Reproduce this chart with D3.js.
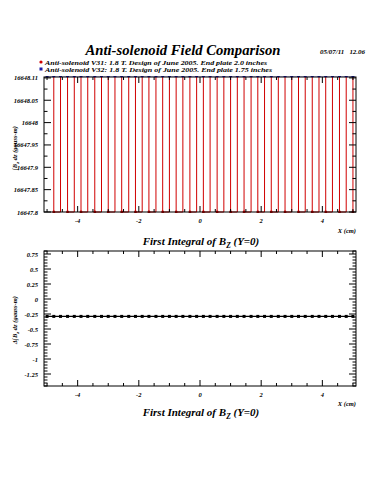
<!DOCTYPE html>
<html><head><meta charset="utf-8">
<script src="https://cdn.jsdelivr.net/npm/d3@7"></script>
<style>body{margin:0;background:#fff}svg{display:block}</style>
</head><body>
<script>
// ---- data ----
const xPositions = [-5, -4.78, -4.56, -4.33, -4.11, -3.89, -3.67, -3.44, -3.22, -3, -2.78, -2.56, -2.33, -2.11, -1.89, -1.67, -1.44, -1.22, -1, -0.78, -0.56, -0.33, -0.11, 0.11, 0.33, 0.56, 0.78, 1, 1.22, 1.44, 1.67, 1.89, 2.11, 2.33, 2.56, 2.78, 3, 3.22, 3.44, 3.67, 3.89, 4.11, 4.33, 4.56, 4.78, 5];
const v31Values = [16648.11, 16647.8, 16648.11, 16647.8, 16648.11, 16647.8, 16648.11, 16647.8, 16648.11, 16647.8, 16648.11, 16647.8, 16648.11, 16647.8, 16648.11, 16647.8, 16648.11, 16647.8, 16648.11, 16647.8, 16648.11, 16647.8, 16648.11, 16647.8, 16648.11, 16647.8, 16648.11, 16647.8, 16648.11, 16647.8, 16648.11, 16647.8, 16648.11, 16647.8, 16648.11, 16647.8, 16648.11, 16647.8, 16648.11, 16647.8, 16648.11, 16647.8, 16648.11, 16647.8, 16648.11, 16647.8];
const v32Values = [16648.105, 16648.105, 16648.105, 16648.105, 16648.105, 16648.105, 16648.105, 16648.105, 16648.105, 16648.105, 16648.105, 16648.105, 16648.105, 16648.105, 16648.105, 16648.105, 16648.105, 16648.105, 16648.105, 16648.105, 16648.105, 16648.105, 16648.105, 16648.105, 16648.105, 16648.105, 16648.105, 16648.105, 16648.105, 16648.105, 16648.105, 16648.105, 16648.105, 16648.105, 16648.105, 16648.105, 16648.105, 16648.105, 16648.105, 16648.105, 16648.105, 16648.105, 16648.105, 16648.105, 16648.105, 16648.105];
const diffValues = [-0.29, -0.29, -0.29, -0.29, -0.29, -0.29, -0.29, -0.29, -0.29, -0.29, -0.29, -0.29, -0.29, -0.29, -0.29, -0.29, -0.29, -0.29, -0.29, -0.29, -0.29, -0.29, -0.29, -0.29, -0.29, -0.29, -0.29, -0.29, -0.29, -0.29, -0.29, -0.29, -0.29, -0.29, -0.29, -0.29, -0.29, -0.29, -0.29, -0.29, -0.29, -0.29, -0.29, -0.29, -0.29, -0.29];
const xTicks = [-4, -2, 0, 2, 4];
const xTickLabels = ["-4", "-2", "0", "2", "4"];
const topYTicks = [16647.8, 16647.85, 16647.9, 16647.95, 16648, 16648.05, 16648.1];
const topYTickLabels = ["16647.8", "16647.85", "16647.9", "16647.95", "16648", "16648.05", "16648.11"];
const botYTicks = [-1.25, -1, -0.75, -0.5, -0.25, 0, 0.25, 0.5, 0.75];
const botYTickLabels = ["-1.25", "-1", "-0.75", "-0.5", "-0.25", "0", "0.25", "0.5", "0.75"];
const legendLabels = ["Anti-solenoid V31: 1.8 T. Design of June 2005. End plate 2.0 inches",
                      "Anti-solenoid V32: 1.8 T. Design of June 2005. End plate 1.75 inches"];
const titleText = "Anti-solenoid Field Comparison";
const dateText = "05/07/11   12.06";

// ---- layout ----
const W = 375, H = 500;
const FONT = "'Liberation Serif', 'DejaVu Serif', serif";
const svg = d3.select("body").append("svg").attr("width", W).attr("height", H);
const RED = "#d00000", BLUE = "#1a1aa8";

const xScale = d3.scaleLinear().domain([-5.1, 5.1]).range([44, 356]);
const yTop = d3.scaleLinear().domain([16647.8, 16648.102]).range([212, 77]);
const yBot = d3.scaleLinear().domain([-1.45, 0.8]).range([386, 251]);

function txt(x, y, s, size, anchor) {
  return svg.append("text").attr("x", x).attr("y", y).text(s)
    .attr("font-family", FONT).attr("font-style", "italic").attr("font-weight", "bold")
    .attr("font-size", size).attr("text-anchor", anchor || "start").attr("fill", "#000");
}

// title
txt(183, 55, titleText, 15.5, "middle").attr("textLength", 195).attr("lengthAdjust", "spacingAndGlyphs");
txt(365, 54, dateText, 6, "end").style("white-space", "pre").attr("textLength", 45).attr("lengthAdjust", "spacingAndGlyphs");

// legend
svg.append("circle").attr("cx", 41).attr("cy", 62).attr("r", 1.6).attr("fill", RED);
svg.append("rect").attr("x", 39.5).attr("y", 67.5).attr("width", 3).attr("height", 3).attr("fill", BLUE);
txt(45, 64.5, legendLabels[0], 6).attr("textLength", 222).attr("lengthAdjust", "spacingAndGlyphs");
txt(45, 71.5, legendLabels[1], 6).attr("textLength", 227).attr("lengthAdjust", "spacingAndGlyphs");

function frame(ys, yTicks, yLabels, yMinor) {
  const [y0, y1] = ys.range();
  const g = svg.append("g");
  const xMinor = d3.range(-5, 5.01, 0.5);
  xMinor.forEach(v => {
    const major = xTicks.includes(v);
    const L = major ? 6 : 3;
    g.append("line").attr("x1", xScale(v)).attr("x2", xScale(v)).attr("y1", y0).attr("y2", y0 - L).attr("stroke", "#000");
    g.append("line").attr("x1", xScale(v)).attr("x2", xScale(v)).attr("y1", y1).attr("y2", y1 + L).attr("stroke", "#000");
  });
  yMinor.forEach(v => {
    const major = yTicks.some(t => Math.abs(t - v) < 1e-6);
    const L = major ? 7 : 3.5;
    g.append("line").attr("x1", 44).attr("x2", 44 + L).attr("y1", ys(v)).attr("y2", ys(v)).attr("stroke", "#000");
    g.append("line").attr("x1", 356).attr("x2", 356 - L).attr("y1", ys(v)).attr("y2", ys(v)).attr("stroke", "#000");
  });
  yTicks.forEach((v, i) => txt(38, ys(v) + 2.5, yLabels[i], 6.5, "end"));
  xTicks.forEach((v, i) => txt(xScale(v), y0 + 10.5, xTickLabels[i], 6.5, "middle"));
  g.append("rect").attr("x", 44).attr("y", y1).attr("width", 312).attr("height", y0 - y1)
    .attr("fill", "none").attr("stroke", "#000").attr("stroke-width", 1);
  return g;
}

// ---- top panel ----
svg.append("clipPath").attr("id", "ct").append("rect")
  .attr("x", 44).attr("y", 76).attr("width", 312).attr("height", 137);
const topMinor = d3.range(0, 13).map(i => Math.round((16647.8 + i * 0.025) * 1000) / 1000);
const gTop = svg.append("g").attr("clip-path", "url(#ct)");
const redPts = xPositions.map((x, i) => [xScale(x), yTop(v31Values[i])]);
const bluePts = xPositions.map((x, i) => [xScale(x), yTop(v32Values[i])]);
gTop.append("path").attr("d", d3.line().curve(d3.curveStepAfter)(redPts))
  .attr("fill", "none").attr("stroke", RED).attr("stroke-width", 1);
gTop.selectAll(".rm").data(redPts).join("circle").attr("cx", d => d[0]).attr("cy", d => d[1]).attr("r", 1.4).attr("fill", RED);
gTop.append("path").attr("d", d3.line()(bluePts)).attr("fill", "none").attr("stroke", BLUE).attr("stroke-width", 1.2);
gTop.selectAll(".bm").data(bluePts).join("rect").attr("x", d => d[0] - 1.5).attr("y", d => d[1] - 1.5)
  .attr("width", 3).attr("height", 3).attr("fill", BLUE);
frame(yTop, topYTicks, topYTickLabels, topMinor);

txt(356, 233, "X (cm)", 6.5, "end");
const t1 = txt(201, 245, "First Integral of B", 11, "middle");
t1.append("tspan").attr("font-size", 7.5).attr("dy", 2.5).text("Z");
t1.append("tspan").attr("dy", -2.5).text(" (Y=0)");

const yt1 = svg.append("text").attr("transform", "translate(17,148) rotate(-90)").attr("text-anchor", "middle")
  .attr("font-family", FONT).attr("font-style", "italic").attr("font-weight", "bold").attr("font-size", 6.5).text("∫B");
yt1.append("tspan").attr("font-size", 5).attr("dy", 1.5).text("z");
yt1.append("tspan").attr("dy", -1.5).text(" dz  (gauss-m)");

// ---- bottom panel ----
const botMinor = d3.range(0, 46).map(i => Math.round((-1.45 + i * 0.05) * 100) / 100).filter(v => v >= -1.45 && v <= 0.8);
const gBot = svg.append("g");
const diffPts = xPositions.map((x, i) => [xScale(x), yBot(diffValues[i])]);
gBot.append("path").attr("d", d3.line()(diffPts)).attr("fill", "none").attr("stroke", "#000").attr("stroke-width", 1.2);
gBot.selectAll(".dm").data(diffPts).join("rect").attr("x", d => d[0] - 1.5).attr("y", d => d[1] - 1.5)
  .attr("width", 3).attr("height", 3).attr("fill", "#000");
frame(yBot, botYTicks, botYTickLabels, botMinor);

txt(356, 406, "X (cm)", 6.5, "end");
const t2 = txt(201, 416, "First Integral of B", 11, "middle");
t2.append("tspan").attr("font-size", 7.5).attr("dy", 2.5).text("Z");
t2.append("tspan").attr("dy", -2.5).text(" (Y=0)");

const yt2 = svg.append("text").attr("transform", "translate(17,320) rotate(-90)").attr("text-anchor", "middle")
  .attr("font-family", FONT).attr("font-style", "italic").attr("font-weight", "bold").attr("font-size", 6.5).text("Δ∫B");
yt2.append("tspan").attr("font-size", 5).attr("dy", 1.5).text("z");
yt2.append("tspan").attr("dy", -1.5).text(" dz  (gauss-m)");
</script>
</body></html>
